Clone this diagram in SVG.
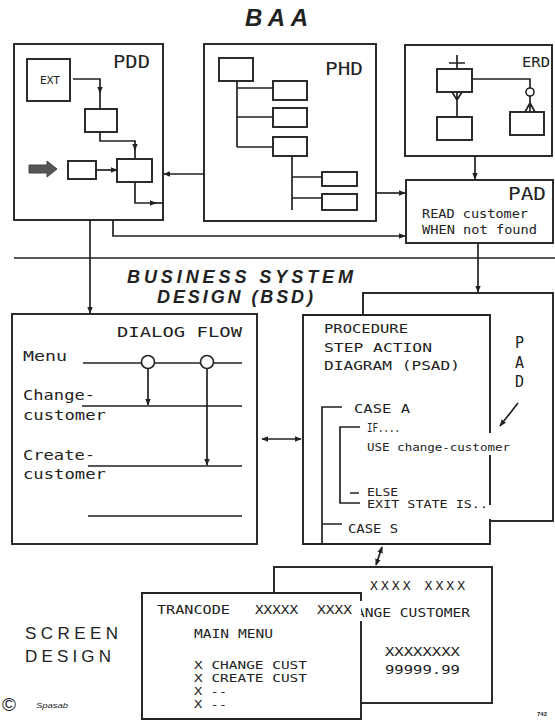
<svg xmlns="http://www.w3.org/2000/svg" width="555" height="721" viewBox="0 0 555 721">
<defs>
<marker id="ah" viewBox="0 0 10 10" refX="9" refY="5" markerWidth="7" markerHeight="7" markerUnits="userSpaceOnUse" orient="auto-start-reverse">
<path d="M0,1 L10,5 L0,9 z" fill="#222"/>
</marker>
<style>
.b{fill:#fff;stroke:#222;stroke-width:1.9}
.l{fill:none;stroke:#222;stroke-width:1.7}
.c{fill:none;stroke:#222;stroke-width:1.7;marker-end:url(#ah)}
.d{fill:none;stroke:#222;stroke-width:1.7;marker-start:url(#ah);marker-end:url(#ah)}
.m{font-family:"DejaVu Sans Mono","Liberation Mono",monospace;fill:#222}
.h{font-family:"Liberation Sans",Arial,sans-serif;font-weight:bold;font-style:italic;fill:#222}
.s{font-family:"Liberation Sans",Arial,sans-serif;fill:#222}
</style>
</defs>
<rect width="555" height="721" fill="#fff"/>

<text class="h" x="245" y="26" font-size="24" textLength="63" lengthAdjust="spacing">BAA</text>

<g id="pdd">
<rect class="b" x="14" y="44" width="149" height="176"/>
<text class="m" x="113" y="68" font-size="17" textLength="37" lengthAdjust="spacingAndGlyphs">PDD</text>
<rect class="b" x="27" y="59" width="43" height="42"/>
<text class="m" x="40" y="84" font-size="10" textLength="20" lengthAdjust="spacingAndGlyphs">EXT</text>
<rect class="b" x="85" y="109" width="32" height="23"/>
<rect class="b" x="117" y="159" width="35" height="23"/>
<rect class="b" x="68" y="161" width="28" height="18"/>
<path d="M29,165 H47 V161 L57,169 L47,177 V173 H29 z" fill="#555" stroke="#444" stroke-width="1"/>
<path class="c" d="M73,79 H100 V93"/>
<path class="l" d="M100,92 V109"/>
<path class="c" d="M100,132 V141 H135 V150"/>
<path class="l" d="M135,149 V159"/>
<path class="c" d="M96,170 H117"/>
<path class="c" d="M135,182 V203 H156"/>
<path class="l" d="M155,203 H163"/>
</g>

<g id="phd">
<rect class="b" x="204" y="44" width="172" height="177"/>
<text class="m" x="325" y="75" font-size="17" textLength="38" lengthAdjust="spacingAndGlyphs">PHD</text>
<rect class="b" x="219" y="58" width="34" height="23"/>
<rect class="b" x="273" y="81" width="34" height="19"/>
<rect class="b" x="273" y="108" width="34" height="19"/>
<rect class="b" x="273" y="137" width="34" height="19"/>
<rect class="b" x="322" y="172" width="35" height="14"/>
<rect class="b" x="322" y="194" width="35" height="16"/>
<path class="l" d="M237,81 V147 M237,88 H273 M237,117 H273 M237,147 H273 M292,156 V210 M292,177 H322 M292,198 H322"/>
</g>

<g id="erd">
<rect class="b" x="405" y="45" width="147" height="111"/>
<text class="m" x="522" y="67" font-size="14" textLength="28" lengthAdjust="spacingAndGlyphs">ERD</text>
<rect class="b" x="437" y="69" width="35" height="23"/>
<rect class="b" x="437" y="117" width="35" height="23"/>
<rect class="b" x="510" y="112" width="34" height="23"/>
<path class="l" d="M457,55 V69 M449,63 H465 M457,92 V117 M452,92 L457,100 L462,92 M472,79 H530 V88 M530,96 V112 M530,103 L525,112 M530,103 L535,112"/>
<circle cx="530" cy="92" r="4" fill="#fff" stroke="#222" stroke-width="1.6"/>
</g>

<g id="pad">
<rect class="b" x="406" y="180" width="147" height="63"/>
<text class="m" x="508" y="200" font-size="17" textLength="38" lengthAdjust="spacingAndGlyphs">PAD</text>
<text class="m" x="422" y="218" font-size="12" textLength="106" lengthAdjust="spacingAndGlyphs">READ customer</text>
<text class="m" x="422" y="234" font-size="12" textLength="115" lengthAdjust="spacingAndGlyphs">WHEN not found</text>
</g>

<path class="l" d="M14,258 H555"/>

<text class="h" x="127" y="283" font-size="18" textLength="226" lengthAdjust="spacing">BUSINESS SYSTEM</text>
<text class="h" x="157" y="303" font-size="18" textLength="156" lengthAdjust="spacing">DESIGN (BSD)</text>

<g id="dialog-flow">
<rect class="b" x="12" y="314" width="245" height="230"/>
<text class="m" x="117" y="337" font-size="14" textLength="125" lengthAdjust="spacingAndGlyphs">DIALOG FLOW</text>
<text class="m" x="23" y="361" font-size="14" textLength="44" lengthAdjust="spacingAndGlyphs">Menu</text>
<text class="m" x="23" y="400" font-size="14" textLength="72" lengthAdjust="spacingAndGlyphs">Change-</text>
<text class="m" x="23" y="420" font-size="14" textLength="83" lengthAdjust="spacingAndGlyphs">customer</text>
<text class="m" x="23" y="460" font-size="14" textLength="72" lengthAdjust="spacingAndGlyphs">Create-</text>
<text class="m" x="23" y="479" font-size="14" textLength="83" lengthAdjust="spacingAndGlyphs">customer</text>
<path class="l" d="M83,363 H242 M82,406 H242 M88,466 H242 M88,516 H242"/>
<circle cx="148" cy="362" r="6.5" fill="#fff" stroke="#222" stroke-width="1.6"/>
<circle cx="207" cy="362" r="6.5" fill="#fff" stroke="#222" stroke-width="1.6"/>
<path class="c" d="M148,369 V405"/>
<path class="c" d="M207,369 V465"/>
</g>

<g id="pad-back">
<rect class="b" x="363" y="293" width="190" height="228"/>
<text class="m" x="515" y="348" font-size="15">P</text>
<text class="m" x="515" y="368" font-size="15">A</text>
<text class="m" x="515" y="387" font-size="15">D</text>
</g>

<g id="psad">
<rect x="303" y="315" width="187" height="229" fill="#fff"/>
<path class="b" d="M490,433 V315 H303 V544 H490 V519 M490,455 V505" fill="none"/>
<text class="m" x="324" y="333" font-size="12" textLength="84" lengthAdjust="spacingAndGlyphs">PROCEDURE</text>
<text class="m" x="324" y="352" font-size="12" textLength="108" lengthAdjust="spacingAndGlyphs">STEP ACTION</text>
<text class="m" x="324" y="370" font-size="12" textLength="136" lengthAdjust="spacingAndGlyphs">DIAGRAM (PSAD)</text>
<text class="m" x="354" y="413" font-size="12" textLength="56" lengthAdjust="spacingAndGlyphs">CASE A</text>
<text class="m" x="367" y="432" font-size="12" textLength="33" lengthAdjust="spacingAndGlyphs">IF....</text>
<text class="m" x="367" y="451" font-size="10" textLength="143" lengthAdjust="spacingAndGlyphs">USE change-customer</text>
<text class="m" x="367" y="496" font-size="10.5" textLength="31" lengthAdjust="spacingAndGlyphs">ELSE</text>
<text class="m" x="367" y="508" font-size="10.5" textLength="121" lengthAdjust="spacingAndGlyphs">EXIT STATE IS..</text>
<text class="m" x="348" y="533" font-size="12" textLength="50" lengthAdjust="spacingAndGlyphs">CASE S</text>
<path class="l" d="M342,407 H322 V544 M322,524 H342 M360,427 H340 V503 H360 M350,493 H359"/>
</g>

<g id="screen-back">
<rect class="b" x="274" y="567" width="218" height="136"/>
<text class="m" x="370" y="590" font-size="13" textLength="95" lengthAdjust="spacing">XXXX  XXXX</text>
<text class="m" x="356" y="617" font-size="13" textLength="114" lengthAdjust="spacingAndGlyphs">ANGE CUSTOMER</text>
<text class="m" x="385" y="656" font-size="13" textLength="75" lengthAdjust="spacingAndGlyphs">XXXXXXXX</text>
<text class="m" x="385" y="674" font-size="13" textLength="75" lengthAdjust="spacingAndGlyphs">99999.99</text>
</g>

<g id="screen-front">
<rect x="142" y="593" width="219" height="126" fill="#fff"/>
<path class="b" d="M361,601 V593 H142 V719 H361 V621" fill="none"/>
<text class="m" x="157" y="614" font-size="13" textLength="73" lengthAdjust="spacingAndGlyphs">TRANCODE</text>
<text class="m" x="255" y="614" font-size="13" textLength="43" lengthAdjust="spacingAndGlyphs">XXXXX</text>
<text class="m" x="317" y="614" font-size="13" textLength="35" lengthAdjust="spacingAndGlyphs">XXXX</text>
<text class="m" x="194" y="638" font-size="13" textLength="79" lengthAdjust="spacingAndGlyphs">MAIN MENU</text>
<text class="m" x="194" y="669" font-size="11" textLength="113" lengthAdjust="spacingAndGlyphs">X CHANGE CUST</text>
<text class="m" x="194" y="682" font-size="11" textLength="113" lengthAdjust="spacingAndGlyphs">X CREATE CUST</text>
<text class="m" x="194" y="695" font-size="11" textLength="33" lengthAdjust="spacingAndGlyphs">X --</text>
<text class="m" x="194" y="708" font-size="11" textLength="33" lengthAdjust="spacingAndGlyphs">X --</text>
</g>

<text class="s" x="25" y="639" font-size="17" textLength="93" lengthAdjust="spacing">SCREEN</text>
<text class="s" x="25" y="662" font-size="17" textLength="86" lengthAdjust="spacing">DESIGN</text>
<text class="s" x="2" y="711" font-size="19">©</text>
<text class="s" x="36" y="708" font-size="8" font-style="italic" textLength="32" lengthAdjust="spacingAndGlyphs">Spasab</text>
<text class="s" x="537" y="716" font-size="6" font-weight="bold">742</text>

<g id="connectors">
<path class="c" d="M204,174 H164"/>
<path class="c" d="M376,193 H405"/>
<path class="c" d="M475,156 V179"/>
<path class="c" d="M113,220 V236 H405"/>
<path class="c" d="M90,220 V313"/>
<path class="c" d="M478,243 V292"/>
<path class="d" d="M262,439 H301"/>
<path class="d" d="M382,547 L376,565"/>
<path class="c" d="M518,403 L500,426"/>
</g>
</svg>
